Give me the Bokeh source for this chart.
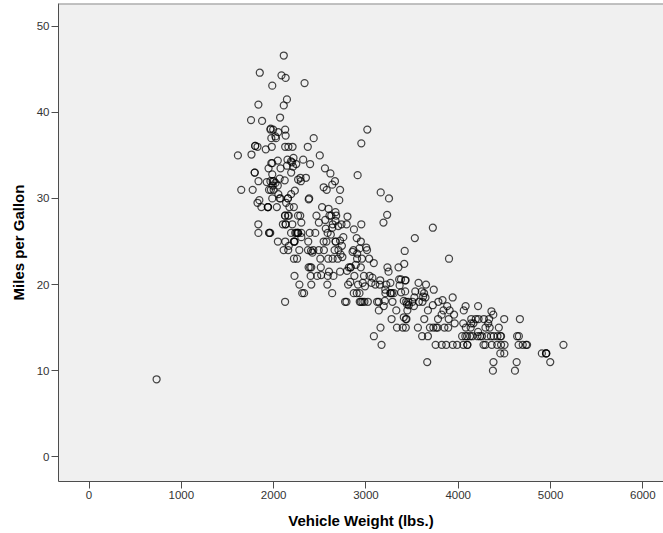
from bokeh.plotting import figure
from bokeh.models import Range1d, FixedTicker, ColumnDataSource, Span
from bokeh.embed import file_html
from bokeh.resources import INLINE

# Vehicle weight (lbs.) and miles per gallon, one entry per car
vehicle_weight = [
    3504, 3693, 3436, 3433, 3449, 4341, 4354, 4312, 4425, 3850, 3563, 3609, 3761, 3086, 2372, 2833, 2774, 2587, 2130, 1835, 2672, 2430, 2375, 2234, 2648, 4615, 4376, 4382, 732,
    2130, 2264, 2228, 2046, 2634, 3439, 3329, 3302, 3288, 4209, 4464, 4154, 4096, 4955, 4746, 5140, 2962, 2408, 3282, 3139, 2220, 2123, 2074, 2065, 1773, 1613, 1834, 1955,
    2278, 2126, 2254, 2408, 2226, 4274, 4385, 4135, 4129, 3672, 4633, 4502, 4456, 4422, 2330, 3892, 4098, 4294, 4077, 2933, 2511, 2979, 2189, 2395, 2288, 2506, 2164, 2100,
    4100, 3672, 3988, 4042, 3777, 4952, 4464, 4363, 4237, 4735, 4951, 3821, 3121, 3278, 2945, 3021, 2904, 1950, 4997, 4906, 4654, 4499, 2789, 2279, 2401, 2379, 2124, 2310, 2472, 2265, 4082, 4278, 1867, 2158, 2582, 2868, 3399, 2660, 2807, 3664,
    3102, 2875, 2901, 3336, 1950, 2451, 1836, 2542, 3781, 3632, 3613, 4141, 4699, 4457, 4638, 4257, 2219, 1963, 2300, 1649, 2003, 2125, 2108, 2246, 2489, 2391, 2000,
    3264, 3459, 3432, 3158, 4668, 4440, 4498, 4657, 3907, 3897, 3730, 3785, 3039, 3221, 3169, 2171, 2639, 2914, 2592, 2702, 2223, 2545, 2984, 1937, 3211, 2694, 2957, 2945, 2671, 1795,
    2464, 2220, 2572, 2255, 2202, 4215, 4190, 3962, 4215, 3233, 3353, 3012, 3085, 2035, 2164, 1937, 1795, 3651, 3574, 3645, 3193, 1825, 1990, 2155, 2565, 3150, 3940, 3270, 2930, 3820, 4380, 4055, 3870, 3755,
    2045, 2155, 1825, 2300, 1945, 3880, 4060, 4140, 4295, 3520, 3425, 3630, 3525, 4220, 4165, 4325, 4335, 1940, 2740, 2265, 2755, 2051, 2075, 1985, 2190, 2815, 2600, 2720,
    1985, 1800, 1985, 2070, 1800, 3365, 3735, 3570, 3535, 3155, 2965, 2720, 3430, 3210, 3380, 3070, 3620, 3410, 3425, 3445, 3205, 4080, 2155, 2560, 2300, 2230, 2515, 2745, 2855, 2405, 2830, 3140, 2795, 3410, 1990, 2135,
    3245, 2990, 2890, 3265, 3360, 3840, 3725, 3955, 3830, 4360, 4054, 3605, 3940, 1925, 1975, 1915, 2670, 3530, 3900, 3190, 3420, 2200, 2150, 2020, 2130, 2670, 2595, 2700, 2556,
    2144, 1968, 2120, 2019, 2678, 2870, 3003, 3381, 2188, 2711, 2542, 2434, 2265, 2110, 2800, 2110, 2085, 2335, 2950, 3250, 1850, 1835, 2145, 1845, 2910, 2420, 2500, 2905, 2290,
    2490, 2635, 2620, 2725, 2385, 1755, 1875, 1760, 2065, 1975, 2050, 1985, 2215, 2045, 2380, 2190, 2320, 2210, 2350, 2615, 2635, 3230, 3160, 2900, 2930, 3415, 3725, 3060, 3465,
    2605, 2640, 2395, 2575, 2525, 2735, 2865, 3035, 1980, 2025, 1970, 2125, 2125, 2160, 2205, 2245, 1965, 1965, 1995, 2945, 3015, 2585, 2835, 2665, 2370, 2950, 2790, 2130, 2295, 2625, 2720,
]
miles_per_gallon = [
    18, 15, 18, 16, 17, 15, 14, 14, 14, 15, 15, 14, 15, 14, 24, 22, 18, 21, 27, 26, 25, 24, 25, 26, 21, 10, 10, 11, 9,
    27, 28, 25, 25, 19, 16, 17, 19, 18, 14, 14, 14, 14, 12, 13, 13, 18, 22, 19, 18, 23, 28, 30, 30, 31, 35, 27, 26,
    24, 25, 23, 20, 21, 13, 14, 15, 14, 17, 11, 13, 12, 13, 19, 15, 13, 13, 14, 18, 22, 21, 26, 22, 28, 23, 28, 27,
    13, 14, 13, 14, 15, 12, 13, 13, 14, 13, 12, 13, 18, 16, 18, 18, 23, 26, 11, 12, 13, 12, 18, 20, 21, 22, 18, 19, 21, 26, 15, 16, 29, 24, 20, 19, 15, 24, 20, 11,
    20, 21, 19, 15, 31, 26, 32, 25, 16, 16, 18, 16, 13, 14, 14, 14, 29, 26, 26, 31, 32, 28, 24, 26, 24, 26, 31,
    19, 18, 15, 15, 16, 15, 16, 14, 17, 16, 15, 18, 21, 20, 13, 29, 23, 20, 23, 24, 25, 24, 18, 29, 19, 23, 23, 22, 25, 33,
    28, 25, 25, 26, 27, 17.5, 16, 15.5, 14.5, 22, 22, 24, 22.5, 29, 24.5, 29, 33, 20, 18, 18.5, 17.5, 29.5, 32, 28, 26.5, 20, 13, 19, 19, 16.5, 16.5, 13, 13, 13,
    31.5, 30, 36, 25.5, 33.5, 17.5, 17, 15.5, 15, 17.5, 20.5, 19, 18.5, 16, 15.5, 15.5, 16, 29, 24.5, 26, 25.5, 30.5, 33.5, 30, 30.5, 22, 21.5, 21.5,
    43.1, 36.1, 32.8, 39.4, 36.1, 19.9, 19.4, 20.2, 19.2, 20.5, 20.2, 25.1, 20.5, 19.4, 20.6, 20.8, 18.6, 18.1, 19.2, 17.7, 18.1, 17.5, 30, 27.5, 27.2, 30.9, 21.1, 23.2, 23.8, 23.9, 20.3, 17, 21.6, 16.2, 31.5, 29.5,
    21.5, 19.8, 22.3, 20.2, 20.6, 17, 17.6, 16.5, 18.2, 16.9, 15.5, 19.2, 18.5, 31.9, 34.1, 35.7, 27.4, 25.4, 23, 27.2, 23.9, 34.2, 34.5, 31.8, 37.3, 28.4, 28.8, 26.8, 33.5,
    41.5, 38.1, 32.1, 37.2, 28, 26.4, 24.3, 19.1, 34.3, 29.8, 31.3, 37, 32.2, 46.6, 27.9, 40.8, 44.3, 43.4, 36.4, 30, 44.6, 40.9, 33.8, 29.8, 32.7, 23.7, 35, 23.6, 32.4,
    27.2, 26.6, 25.8, 23.5, 30, 39.1, 39, 35.1, 32.3, 37, 37.7, 34.1, 34.7, 34.4, 29.9, 33, 34.5, 33.7, 32.4, 32.9, 31.6, 28.1, 30.7, 25.4, 24.2, 22.4, 26.6, 20.2, 17.6,
    28, 27, 34, 31, 29, 27, 24, 23, 36, 37, 31, 38, 36, 36, 36, 34, 38, 32, 38, 25, 38, 26, 22, 32, 36, 27, 27, 44, 32, 28, 31,
]

x_ticks = [0, 1000, 2000, 3000, 4000, 5000, 6000]
y_ticks = [0, 10, 20, 30, 40, 50]
x_limits = (-331, 6224)
y_limits = (-2.87, 52.64)

source = ColumnDataSource(data=dict(weight=vehicle_weight, mpg=miles_per_gallon))

p = figure(
    width=663, height=530,
    output_backend="svg", toolbar_location=None,
    x_range=Range1d(*x_limits), y_range=Range1d(*y_limits),
    min_border_left=58, min_border_right=0, min_border_top=0, min_border_bottom=52,
    margin=(3, 0, 0, 0),
)
p.background_fill_color = "#f0f0f0"
p.border_fill_color = "white"
p.outline_line_color = None
p.xgrid.visible = False
p.ygrid.visible = False

# top frame line (no right border in the original)
p.add_layout(Span(location=y_limits[1], dimension="width",
                  line_color="#8c8c8c", line_width=2))

p.scatter("weight", "mpg", source=source, marker="circle", size=7,
          fill_color=None, line_color="black", line_alpha=0.72, line_width=1.25)

for ax in (p.xaxis[0], p.yaxis[0]):
    ax.axis_line_color = "#4d4d4d"
    ax.axis_line_width = 1
    ax.major_tick_line_color = "#4d4d4d"
    ax.major_tick_out = 7
    ax.major_tick_in = 0
    ax.minor_tick_line_color = None
    ax.major_label_text_font = "Liberation Sans"
    ax.major_label_text_font_size = "11.5px"
    ax.major_label_text_color = "#333333"
    ax.major_label_standoff = 2
    ax.axis_label_text_font = "Liberation Sans"
    ax.axis_label_text_font_style = "bold"
    ax.axis_label_text_font_size = "15px"
    ax.axis_label_text_color = "black"

p.xaxis.ticker = FixedTicker(ticks=x_ticks)
p.yaxis.ticker = FixedTicker(ticks=y_ticks)
p.xaxis.axis_label = "Vehicle Weight (lbs.)"
p.yaxis.axis_label = "Miles per Gallon"
p.xaxis.axis_label_standoff = 10
p.yaxis.axis_label_standoff = 7

open("out.html", "w").write(file_html(p, INLINE))
